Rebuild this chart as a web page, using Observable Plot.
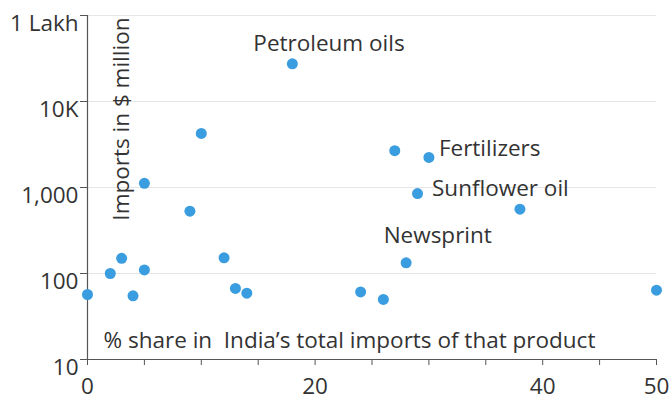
<!DOCTYPE html>
<html>
<head>
<meta charset="utf-8">
<script src="https://cdn.jsdelivr.net/npm/d3@7"></script>
<script src="https://cdn.jsdelivr.net/npm/@observablehq/plot@0.6"></script>
<style>
  html, body { margin: 0; padding: 0; background: #fff; }
  svg { display: block; }
</style>
</head>
<body>
<div id="chart"></div>
<script>
const share = [0, 2, 3, 4, 5, 5, 9, 10, 12, 13, 14, 18, 24, 26, 27, 28, 29, 30, 38, 50];
const imports = [57, 100, 150, 55, 1120, 110, 530, 4250, 152, 67, 59, 27400, 61, 50, 2680, 133, 850, 2240, 560, 64];
const names = ["", "", "", "", "", "", "", "", "", "", "", "Petroleum oils", "", "", "", "Newsprint", "Sunflower oil", "Fertilizers", "", ""];

const yTicks = [10, 100, 1000, 10000, 100000];
const yTickLabels = ["10", "100", "1,000", "10K", "1 Lakh"];
const xTicks = [0, 5, 10, 15, 20, 25, 30, 35, 40, 45, 50];
const xLabeled = [0, 20, 40, 50];

const yTitle = "Imports in $ million";
const xTitle = "% share in  India\u2019s total imports of that product";

const data = share.map((s, i) => ({share: s, imports: imports[i], name: names[i]}));
const byName = n => data.filter(d => d.name === n);

const font = "'Open Sans', sans-serif";
const ink = "#333";
const fs = 22.5;

const chart = Plot.plot({
  width: 672,
  height: 401,
  marginLeft: 87,
  marginRight: 16,
  marginTop: 15,
  marginBottom: 42,
  style: {fontFamily: font, fontSize: fs + "px", color: ink, background: "#fff"},
  x: {domain: [0, 50]},
  y: {type: "log", domain: [10, 100000]},
  marks: [
    Plot.gridY(yTicks.slice(1), {stroke: "#e6e6e6", strokeOpacity: 1, strokeWidth: 1}),
    Plot.axisY({
      ticks: yTicks,
      tickFormat: d => yTickLabels[yTicks.indexOf(d)],
      tickSize: 7,
      tickPadding: 2,
      lineAnchor: "top",
      stroke: "#555",
      fill: ink,
      fontSize: fs,
      label: null
    }),
    Plot.axisX({
      ticks: xTicks,
      tickFormat: d => xLabeled.includes(d) ? String(d) : "",
      tickSize: 6,
      tickPadding: 13,
      stroke: "#555",
      fill: ink,
      fontSize: fs,
      label: null
    }),
    Plot.ruleX([0], {stroke: "#555", strokeWidth: 1.2}),
    Plot.ruleY([10], {stroke: "#555", strokeWidth: 1.2}),
    Plot.text([yTitle], {
      frameAnchor: "top-left", rotate: -90, textAnchor: "end",
      dx: 26, dy: 2, fontSize: fs, fill: ink
    }),
    Plot.text([xTitle], {
      frameAnchor: "bottom-left", textAnchor: "start",
      dx: 16, dy: -12, fontSize: fs, fill: ink
    }),
    Plot.dot(data, {x: "share", y: "imports", r: 5.5, fill: "#3a9de0", stroke: "none"}),
    Plot.text(byName("Petroleum oils"), {x: "share", y: "imports", text: "name", textAnchor: "start", dx: -39, dy: -20.5, fontSize: fs, fill: ink}),
    Plot.text(byName("Fertilizers"), {x: "share", y: "imports", text: "name", textAnchor: "start", dx: 10, dy: -9, fontSize: fs, fill: ink}),
    Plot.text(byName("Sunflower oil"), {x: "share", y: "imports", text: "name", textAnchor: "start", dx: 14.5, dy: -5, fontSize: fs, fill: ink}),
    Plot.text(byName("Newsprint"), {x: "share", y: "imports", text: "name", textAnchor: "start", dx: -22.5, dy: -27.5, fontSize: fs, fill: ink})
  ]
});
document.getElementById("chart").appendChild(chart);
</script>
</body>
</html>
